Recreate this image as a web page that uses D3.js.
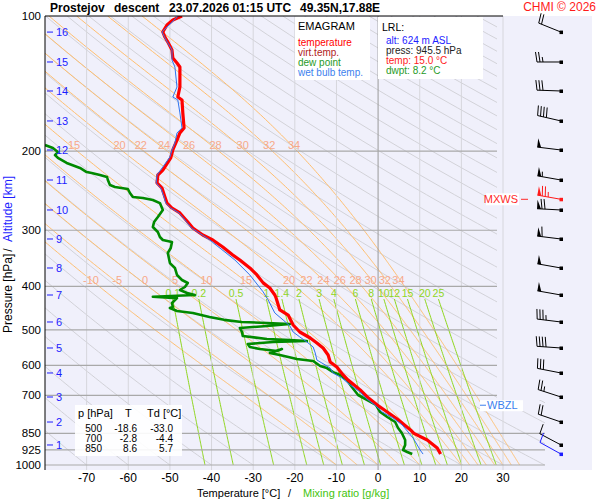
<!DOCTYPE html>
<html>
<head>
<meta charset="utf-8">
<script src="https://cdn.jsdelivr.net/npm/d3@7"></script>
<style>
body{margin:0;background:#fff}
text{font-family:"Liberation Sans",Arial,sans-serif}
</style>
</head>
<body>
<svg id="chart" width="600" height="500"></svg>
<script>
// sounding: temperature
const tempP = [100,102.1,104.7,108.5,111.4,114.3,119.1,124,127.3,129.9,143.9,151.5,153.8,164.4,177.5,182.2,188.9,198.8,207.1,220.3,226,235.4,241.6,253,261,267.7,274.6,287.6,296.6,307.4,315.4,327,340.6,349.5,364,377.4,393,403.5,418.2,424.6,451.6,463.4,487.7,505.6,521.4,534.9,548.8,568.9,589.6,605,630,646.7,680.7,705.6,735,762,790,835.6,850,879.6,916.3,945.5];
const tempT = [-47.1,-49.3,-50.7,-51.7,-51.2,-50.5,-49.5,-49.3,-48.3,-47.6,-47.6,-48.1,-47.1,-46.9,-46.6,-47.6,-48.3,-49.3,-49.8,-51.7,-52.9,-53.1,-51.9,-51.2,-50.7,-49.5,-47.6,-45.7,-44.5,-42.1,-39.7,-37.3,-34.9,-33.2,-30.8,-29.1,-27.6,-26.0,-24.8,-24.5,-23.6,-21.6,-20.4,-18.8,-16.3,-14.7,-13.2,-12.0,-11.5,-9.9,-8.4,-7.2,-4.3,-2.6,-0.2,2.2,4.6,7.8,8.6,11.8,14.2,15.0];

// dew point
const dewP = [193.8,196.8,200.8,204,207,212.5,218,222.6,223.7,226,228.3,231.9,237.9,240.3,242.8,247.9,253,254.3,256.9,261,270.4,280.3,287.6,295.1,302.8,310.6,315.4,318.7,328.6,337.1,355,364.1,377.4,387.3,393.2,401.4,407.6,413.9,418.2,422,425,435.8,444.7,447,454,458.6,468,475,480.3,482.7,485.2,490.2,495.3,505.6,516,524,526.7,529.4,532.2,537.8,545.9,551.6,557.2,551.6,562.9,568.9,580.6,586.7,601.9,608.2,621,630.4,646.7,670.3,698.4,716.5,735,762,781.7,802,827,848.5,879.6,902.4,926,935.6,945.5];
const dewT = [-80,-78.1,-76.9,-77.6,-76.9,-74.8,-71.6,-70.0,-68.8,-66.8,-65.1,-64.9,-64.4,-63.2,-60.1,-59.6,-58.9,-56.5,-54.1,-52.4,-51.7,-52.9,-53.8,-54.1,-52.9,-52.4,-51.7,-49.5,-49.8,-50.5,-50.0,-48.8,-48.3,-47.1,-45.7,-46.4,-47.6,-45.9,-44.0,-54.1,-48.3,-49.5,-49.3,-50.0,-48.3,-44.5,-40.5,-37.0,-32.8,-26.7,-21.2,-26.7,-33.2,-32.7,-32.5,-26.7,-21.2,-17.1,-25.2,-31.3,-30.8,-28.4,-24.3,-23.1,-26.0,-23.6,-19.5,-15.6,-13.9,-12.3,-10.8,-9.1,-7.5,-6.3,-4.8,-2.6,-0.5,0.5,2.2,4.1,4.8,5.7,6.5,6.5,6.0,7.0,8.2];

// wet bulb temperature
const wetP = [100,108.5,111.9,119.1,125.3,129.9,143.9,151.5,153.8,164.4,177.5,182.2,191.8,198.8,206.1,216.9,226,235.4,241.6,253,261,267.7,274.6,287.6,296.6,315.4,349.5,377.4,411.7,429,458.6,475.4,490,505.6,518.6,532.2,545.9,562.9,583.6,592.6,608.2,624.1,640,663.4,687.7,709,735,762,786,814.4,844.2,870.8,902.4,926,945.5];
const wetT = [-48,-51.9,-51.2,-49.5,-49.5,-48.8,-48.3,-49.3,-48.1,-47.6,-47.1,-48.3,-48.8,-49.5,-50.0,-51.7,-53.1,-53.3,-52.2,-51.4,-51.0,-49.8,-47.8,-46.0,-44.8,-40.4,-34.4,-30.8,-27.6,-26.4,-24.8,-22.8,-21.2,-20.4,-18.8,-17.1,-15.6,-15.1,-14.7,-13.5,-11.5,-10.8,-8.7,-6.7,-4.3,-3.0,-0.8,1.0,3.6,5.8,7.2,8.4,9.4,10.1,10.8];

// winds (pressure, direction deg, speed kt)
const windP = [108.6,126.6,146.9,171.3,198.8,231.9,270.4,313.8,364.1,418.2,480.3,548.8,623.8,705.6,802.2,902.4];
const windDir = [292,270,272,283,277,280,273,277,280,280,277,274,281,288,289,298];
const windSpd = [20,25,30,40,50,55,70,60,50,50,35,40,30,25,20,10];
const mxwsP = 256, mxwsDir = 280, mxwsSpd = 75;
const lrlP = 945.5, lrlDir = 299, lrlSpd = 10;
const wbzlP = 736;

// altitude scale
const altKm = [16,15,14,13,12,11,10,9,8,7,6,5,4,3,2,1];
const altP = [108.6,126.6,146.9,171.3,198.8,231.9,270.4,313.8,364.1,418.2,480.3,548.8,623.8,705.6,802.2,902.4];

// axes / grid values
const pressTicks = [100,200,300,400,500,600,700,850,925,1000];
const tempTicks = [-70,-60,-50,-40,-30,-20,-10,0,10,20,30];
const thetaW = [-10,-5,0,5,10,15,20,22,24,26,28,30,32,34];
const thetaWLab200 = [15,20,22,24,26,28,30,32,34];
const mixRatios = [0.1,0.2,0.5,1,1.4,2,3,4,6,8,10,12,15,20,25];
const mixLabels = ['0.1','0.2','0.5','1','1.4','2','3','4','6','8','10','12','15','20','25'];

// table
const tabP = [500,700,850];
const tabT = ['-18.6','-2.8','8.6'];
const tabTd = ['-33.0','-4.4','5.7'];

const svg = d3.select('#chart');
const x = d3.scaleLinear().domain([-80,30]).range([45,503]);
const y = d3.scaleLog().domain([100,1000]).range([16,465]);

// background
svg.append('rect').attr('x',45).attr('y',16).attr('width',547).attr('height',454).attr('fill','#f0f0fb');

const defs = svg.append('defs');
const cg = defs.append('clipPath').attr('id','grid');
cg.append('rect').attr('x',45).attr('y',16).attr('width',452).attr('height',449);
cg.append('rect').attr('x',45).attr('y',400).attr('width',500).attr('height',65);
defs.append('clipPath').attr('id','plot').append('rect')
  .attr('x',45).attr('y',16).attr('width',547).attr('height',454);

const grid = svg.append('g').attr('clip-path','url(#grid)');
const line = d3.line().x(d=>x(d[1])).y(d=>y(d[0]));

// isotherms
svg.append('g').selectAll('line').data(tempTicks).enter().append('line')
  .attr('x1',d=>x(d)).attr('x2',d=>x(d)).attr('y1',16).attr('y2',470)
  .attr('stroke',d=>d===0?'#9a9a9a':'#d6d6dc').attr('stroke-width',1);

// dry adiabats
const pSteps = d3.range(100,1001,10);
const thetas = d3.range(-80,340,10);
grid.append('g').selectAll('path').data(thetas).enter().append('path')
  .attr('d',th=>line(pSteps.map(p=>[p,(th+273.15)*Math.pow(p/1000,0.2857)-273.15])))
  .attr('fill','none').attr('stroke','#d2d2d8').attr('stroke-width',1);

// pseudo-adiabats
function es(T){return 6.112*Math.exp(17.67*T/(T+243.5));}
function lapse(T,p){
  const Tk=T+273.15, e=es(T), rs=0.622*e/(p-e);
  return (287.04*Tk+2.501e6*rs)/(p*(1005.7+2.501e6*2.501e6*rs*0.622/(287.04*Tk*Tk)));
}
function moist(tw){
  const pts=[[1000,tw]]; let T=tw, p=1000; const dp=-2;
  while(p>100){
    const k1=lapse(T,p), k2=lapse(T+k1*dp,p+dp);
    T+=0.5*(k1+k2)*dp; p+=dp; pts.push([p,T]);
  }
  return pts;
}
const moistPaths = thetaW.map(tw=>({tw:tw,pts:moist(tw)}));
grid.append('g').selectAll('path').data(moistPaths).enter().append('path')
  .attr('d',d=>line(d.pts)).attr('fill','none').attr('stroke','#ffbe6e').attr('stroke-width',1);

function tAt(pts,p){
  for(let i=1;i<pts.length;i++){
    if(pts[i][0]<=p){const a=pts[i-1],b=pts[i];return a[1]+(b[1]-a[1])*(p-a[0])/(b[0]-a[0]);}
  }
  return pts[pts.length-1][1];
}

// mixing ratio lines
function tMix(w,p){
  const e=w*p/(622+w), l=Math.log(e/6.112);
  return 243.5*l/(17.67-l);
}
const pMix = d3.range(427,1001,6).concat([1000]);
grid.append('g').selectAll('path').data(mixRatios).enter().append('path')
  .attr('d',w=>line(pMix.map(p=>[p,tMix(w,p)])))
  .attr('fill','none').attr('stroke','#8fd61e').attr('stroke-width',1);

// pressure lines
svg.append('g').selectAll('line').data(pressTicks.filter(p=>p>100)).enter().append('line')
  .attr('x1',45).attr('x2',p=>p>=850?545:497).attr('y1',p=>y(p)).attr('y2',p=>y(p))
  .attr('stroke','#a9a9a9').attr('stroke-width',1.2);

// pseudo-adiabat labels
const labG = svg.append('g').attr('font-size',11).attr('fill','#f7a98a').attr('text-anchor','end');
labG.selectAll('text.l200').data(moistPaths.filter(d=>thetaWLab200.includes(d.tw))).enter().append('text')
  .attr('x',d=>x(tAt(d.pts,200))+3).attr('y',y(200)-2).text(d=>d.tw);
labG.selectAll('text.l400').data(moistPaths).enter().append('text')
  .attr('x',d=>x(tAt(d.pts,400))).attr('y',y(400)-2).text(d=>d.tw);

// mixing ratio labels
svg.append('g').attr('font-size',10.5).attr('fill','#8fd61e').attr('text-anchor','middle')
  .selectAll('text').data(mixRatios).enter().append('text')
  .attr('x',w=>x(tMix(w,427))).attr('y',y(427)-2).text((w,i)=>mixLabels[i]);

// profiles
const prof = svg.append('g').attr('clip-path','url(#plot)');
const zip = (ps,ts)=>ps.map((p,i)=>[p,ts[i]]);
prof.append('path').attr('d',line(zip(dewP,dewT))).attr('fill','none')
  .attr('stroke','#008a00').attr('stroke-width',2.6).attr('stroke-linejoin','round');
prof.append('path').attr('d',line(zip(tempP,tempT))).attr('fill','none')
  .attr('stroke','#ff0000').attr('stroke-width',3.2).attr('stroke-linejoin','round');
prof.append('path').attr('d',line(zip(wetP,wetT))).attr('fill','none')
  .attr('stroke','#2f74f0').attr('stroke-width',1);

// frame
svg.append('line').attr('x1',45).attr('x2',45).attr('y1',16).attr('y2',470).attr('stroke','#000');
svg.append('line').attr('x1',45).attr('x2',503).attr('y1',16).attr('y2',16).attr('stroke','#000');

// pressure labels
svg.append('g').attr('font-size',11.5).attr('text-anchor','end')
  .selectAll('text').data(pressTicks).enter().append('text')
  .attr('x',41).attr('y',p=>y(p)+4).text(p=>p);

// altitude labels
const ag = svg.append('g').attr('fill','#1d1dff').attr('font-size',11);
ag.selectAll('line').data(altP).enter().append('line')
  .attr('x1',47).attr('x2',53).attr('y1',p=>y(p)).attr('y2',p=>y(p)).attr('stroke','#1d1dff');
ag.selectAll('text').data(altP).enter().append('text')
  .attr('x',56).attr('y',p=>y(p)+4).text((p,i)=>altKm[i]);

// temperature labels
svg.append('g').attr('font-size',12).attr('text-anchor','middle')
  .selectAll('text').data(tempTicks).enter().append('text')
  .attr('x',d=>x(d)).attr('y',482).text(d=>d);

// axis titles
svg.append('text').attr('x',197).attr('y',497).attr('font-size',11).text('Temperature [°C]');
svg.append('text').attr('x',288).attr('y',497).attr('font-size',11).text('/');
svg.append('text').attr('x',303).attr('y',497).attr('font-size',11).attr('fill','#44c40e').text('Mixing ratio [g/kg]');
svg.append('text').attr('transform','translate(12,333) rotate(-90)').attr('font-size',12).text('Pressure [hPa]');
svg.append('text').attr('transform','translate(12,250) rotate(-90)').attr('font-size',12).attr('text-anchor','middle').text('/');
svg.append('text').attr('transform','translate(12,242) rotate(-90)').attr('font-size',12).attr('fill','#1d1dff').text('Altitude [km]');

// title
const tg = svg.append('g').attr('font-size',12).attr('font-weight','bold');
tg.append('text').attr('x',50).attr('y',12).text('Prostejov');
tg.append('text').attr('x',114).attr('y',12).text('descent');
tg.append('text').attr('x',169).attr('y',12).text('23.07.2026 01:15 UTC');
tg.append('text').attr('x',300).attr('y',12).text('49.35N,17.88E');
svg.append('text').attr('x',596).attr('y',11).attr('text-anchor','end').attr('font-size',12)
  .attr('fill','#ff1a1a').text('CHMI © 2026');

// legend box
svg.append('rect').attr('x',295).attr('y',17).attr('width',75).attr('height',63).attr('fill','#fff');
const lg = svg.append('g').attr('font-size',10);
lg.append('text').attr('x',298).attr('y',30).attr('font-size',11).text('EMAGRAM');
[['temperature','#ff0000'],['virt.temp.','#b01c1c'],['dew point','#1f9a1f'],['wet bulb temp.','#3d7fee']]
  .forEach((d,i)=>lg.append('text').attr('x',298).attr('y',46+i*10).attr('fill',d[1]).text(d[0]));

// LRL box
svg.append('rect').attr('x',378).attr('y',17).attr('width',105).attr('height',62).attr('fill','#fff');
const rg = svg.append('g').attr('font-size',10);
rg.append('text').attr('x',382).attr('y',31).attr('font-size',10.5).text('LRL:');
[['alt: 624 m ASL','#1d1dff'],['press: 945.5 hPa','#222'],['temp: 15.0 °C','#ff1a1a'],['dwpt: 8.2 °C','#1f9a1f']]
  .forEach((d,i)=>rg.append('text').attr('x',386).attr('y',44+i*10).attr('fill',d[1]).text(d[0]));

// table box
svg.append('rect').attr('x',75).attr('y',405).attr('width',107).attr('height',51).attr('fill','#fff').attr('opacity',0.9);
const tb = svg.append('g').attr('font-size',10);
tb.append('text').attr('x',78).attr('y',417).attr('font-size',11).text('p [hPa]');
tb.append('text').attr('x',125).attr('y',417).attr('font-size',11).text('T');
tb.append('text').attr('x',147).attr('y',417).attr('font-size',11).text('Td [°C]');
tabP.forEach((p,i)=>{
  const yy = 432+i*10;
  tb.append('text').attr('x',102).attr('y',yy).attr('text-anchor','end').text(p);
  tb.append('text').attr('x',137).attr('y',yy).attr('text-anchor','end').text(tabT[i]);
  tb.append('text').attr('x',173).attr('y',yy).attr('text-anchor','end').text(tabTd[i]);
});

// MXWS and WBZL markers
svg.append('rect').attr('x',486).attr('y',y(mxwsP)-6).attr('width',33).attr('height',12).attr('fill','#fff');
svg.append('text').attr('x',518).attr('y',y(mxwsP)+4).attr('text-anchor','end').attr('font-size',11)
  .attr('fill','#ff2a2a').text('MXWS');
svg.append('line').attr('x1',521).attr('x2',528).attr('y1',y(mxwsP)).attr('y2',y(mxwsP)).attr('stroke','#ff2a2a');
svg.append('rect').attr('x',480).attr('y',y(wbzlP)-5).attr('width',43).attr('height',11).attr('fill','#fff');
svg.append('line').attr('x1',480).attr('x2',486).attr('y1',y(wbzlP)).attr('y2',y(wbzlP)).attr('stroke','#3d7fee');
svg.append('text').attr('x',487).attr('y',y(wbzlP)+4).attr('font-size',11).attr('fill','#3d7fee').text('WBZL');

// wind barbs
function barb(g,cx,cy,dir,spd,col){
  const r=dir*Math.PI/180, ux=Math.sin(r), uy=-Math.cos(r), px=-uy, py=ux, L=24;
  const tx=cx+ux*L, ty=cy+uy*L;
  g.append('line').attr('x1',cx).attr('y1',cy).attr('x2',tx).attr('y2',ty).attr('stroke',col);
  g.append('rect').attr('x',cx-1.5).attr('y',cy-1.5).attr('width',3.5).attr('height',3.5).attr('fill',col);
  let s=Math.round(spd/5)*5, pos=0;
  while(s>=50){
    const ax=tx-ux*pos, ay=ty-uy*pos;
    g.append('path').attr('d',`M${ax},${ay}L${ax+px*9},${ay+py*9}L${ax-ux*4},${ay-uy*4}Z`).attr('fill',col);
    pos+=5; s-=50;
  }
  while(s>=10){
    const ax=tx-ux*pos, ay=ty-uy*pos;
    g.append('line').attr('x1',ax).attr('y1',ay).attr('x2',ax+px*10+ux*1.5).attr('y2',ay+py*10+uy*1.5).attr('stroke',col);
    pos+=3; s-=10;
  }
  if(s>=5){
    if(pos===0) pos=3;
    const ax=tx-ux*pos, ay=ty-uy*pos;
    g.append('line').attr('x1',ax).attr('y1',ay).attr('x2',ax+px*5+ux*0.8).attr('y2',ay+py*5+uy*0.8).attr('stroke',col);
  }
}
const wg = svg.append('g').attr('stroke-width',1);
windP.forEach((p,i)=>barb(wg,561,y(p),windDir[i],windSpd[i],'#000'));
barb(wg,561,y(mxwsP),mxwsDir,mxwsSpd,'#ff1a1a');
barb(wg,561,y(lrlP),lrlDir,lrlSpd,'#1d1dff');
</script>
</body>
</html>
